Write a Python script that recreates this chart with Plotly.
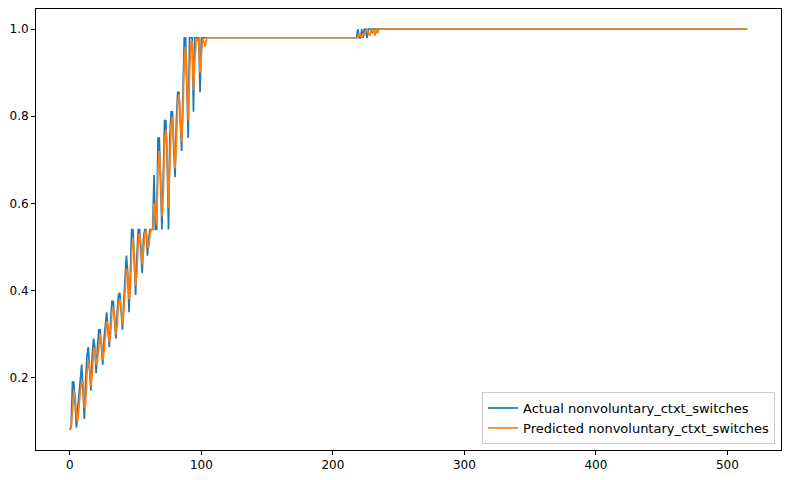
import plotly.graph_objects as go

# Rising segment, index 0..104
actual_rise = [
    0.08, 0.09, 0.19, 0.19, 0.14, 0.085, 0.13, 0.17, 0.19, 0.23,
    0.17, 0.105, 0.19, 0.25, 0.27, 0.21, 0.17, 0.25, 0.29, 0.27,
    0.21, 0.27, 0.31, 0.31, 0.27, 0.23, 0.29, 0.33, 0.35, 0.31,
    0.27, 0.33, 0.375, 0.375, 0.33, 0.29, 0.35, 0.39, 0.395, 0.35,
    0.31, 0.375, 0.44, 0.48, 0.44, 0.35, 0.44, 0.54, 0.54, 0.46,
    0.39, 0.48, 0.54, 0.54, 0.50, 0.44, 0.52, 0.54, 0.54, 0.48,
    0.52, 0.54, 0.54, 0.54, 0.665, 0.54, 0.54, 0.75, 0.75, 0.63,
    0.54, 0.66, 0.79, 0.79, 0.70, 0.54, 0.75, 0.81, 0.81, 0.72,
    0.66, 0.79, 0.855, 0.855, 0.78, 0.72, 0.855, 0.98, 0.98, 0.855,
    0.75, 0.98, 0.98, 0.98, 0.81, 0.98, 0.98, 0.98, 0.98, 0.855,
    0.98, 0.98, 0.98, 0.98, 0.98,
]
predicted_rise = [
    0.08, 0.085, 0.12, 0.17, 0.16, 0.11, 0.10, 0.14, 0.17, 0.19,
    0.19, 0.13, 0.14, 0.21, 0.24, 0.22, 0.18, 0.21, 0.26, 0.27,
    0.23, 0.24, 0.28, 0.30, 0.28, 0.24, 0.26, 0.30, 0.33, 0.32,
    0.28, 0.30, 0.35, 0.36, 0.34, 0.30, 0.32, 0.37, 0.38, 0.36,
    0.32, 0.35, 0.41, 0.45, 0.44, 0.38, 0.40, 0.49, 0.52, 0.48,
    0.41, 0.44, 0.51, 0.53, 0.51, 0.46, 0.49, 0.53, 0.54, 0.50,
    0.50, 0.53, 0.54, 0.54, 0.60, 0.58, 0.55, 0.68, 0.72, 0.66,
    0.57, 0.62, 0.74, 0.77, 0.72, 0.59, 0.68, 0.78, 0.80, 0.75,
    0.68, 0.74, 0.83, 0.85, 0.80, 0.74, 0.81, 0.93, 0.96, 0.88,
    0.79, 0.90, 0.97, 0.97, 0.86, 0.93, 0.97, 0.98, 0.97, 0.90,
    0.95, 0.98, 0.97, 0.96, 0.98,
]

# Plateau at 0.98, index 105..218 (114 points)
plateau_low = 0.98
plateau_low_len = 114

# Transition segment, index 219..236
actual_step = [1.0, 0.98, 0.98, 1.0, 0.98, 1.0, 1.0, 0.98, 1.0, 1.0,
               1.0, 1.0, 1.0, 1.0, 1.0, 1.0, 1.0, 1.0]
predicted_step = [0.98, 0.99, 0.985, 0.98, 0.99, 0.985, 0.995, 1.0, 0.99, 0.985,
                  1.0, 0.99, 1.0, 0.985, 1.0, 0.99, 1.0, 1.0]

# Plateau at 1.0, index 237..515 (279 points)
plateau_high = 1.0
plateau_high_len = 279

actual = actual_rise + [plateau_low] * plateau_low_len + actual_step + [plateau_high] * plateau_high_len
predicted = predicted_rise + [plateau_low] * plateau_low_len + predicted_step + [plateau_high] * plateau_high_len
x = list(range(len(actual)))

x_ticks = [0, 100, 200, 300, 400, 500]
y_ticks = [0.2, 0.4, 0.6, 0.8, 1.0]

fig = go.Figure()
fig.add_trace(go.Scatter(x=x, y=actual, mode="lines", name="Actual nonvoluntary_ctxt_switches",
                         line=dict(color="#1f77b4", width=1.7)))
fig.add_trace(go.Scatter(x=x, y=predicted, mode="lines", name="Predicted nonvoluntary_ctxt_switches",
                         line=dict(color="#ff7f0e", width=1.7)))

xmin, xmax = min(x), max(x)
ymin = min(min(actual), min(predicted))
ymax = max(max(actual), max(predicted))
xpad = (xmax - xmin) * 0.05
ypad = (ymax - ymin) * 0.05

axis_common = dict(showline=True, linecolor="black", linewidth=1, mirror=True,
                   ticks="outside", ticklen=4, tickcolor="black", tickwidth=1,
                   showgrid=False, zeroline=False, tickfont=dict(size=12, color="black"))

fig.update_layout(
    width=791, height=480,
    margin=dict(l=36, r=10, t=8, b=27),
    paper_bgcolor="white", plot_bgcolor="white",
    font=dict(family="DejaVu Sans", size=12, color="black"),
    xaxis=dict(range=[xmin - xpad, xmax + xpad], tickvals=x_ticks, **axis_common),
    yaxis=dict(range=[ymin - ypad, ymax + ypad], tickvals=y_ticks, tickformat=".1f", **axis_common),
    legend=dict(x=0.992, y=0.0135, xanchor="right", yanchor="bottom",
                bgcolor="rgba(255,255,255,0.8)", bordercolor="#cccccc", borderwidth=1,
                font=dict(size=13), itemwidth=30, tracegroupgap=0),
    showlegend=True,
)

fig.write_html("out.html")
